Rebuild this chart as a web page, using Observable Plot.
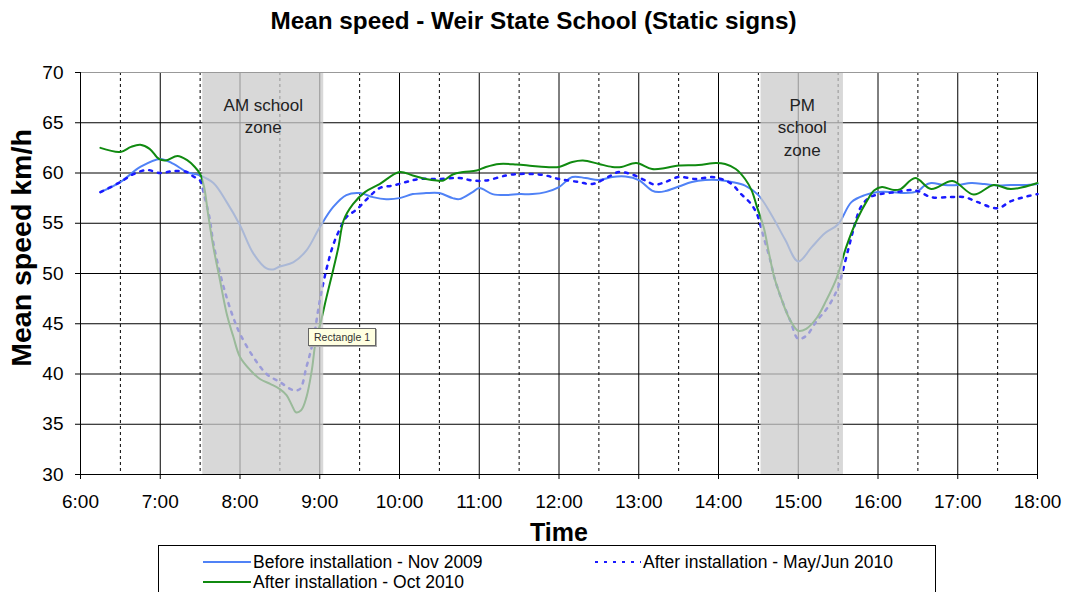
<!DOCTYPE html>
<html><head><meta charset="utf-8">
<script src="https://cdn.jsdelivr.net/npm/d3@7"></script>
<script src="https://cdn.jsdelivr.net/npm/@observablehq/plot@0.6"></script>
<style>
body{margin:0;background:#fff;font-family:"Liberation Sans",Arial,sans-serif;overflow:hidden;width:1067px;height:592px;position:relative}
#title{position:absolute;left:0;top:7px;width:1067px;text-align:center;font-weight:bold;font-size:24.3px;color:#000;line-height:28px}
#ylabel{position:absolute;left:21px;top:248px;transform:translate(-50%,-50%) rotate(-90deg);font-weight:bold;font-size:28.5px;white-space:nowrap;color:#000;line-height:30px}
#chart{position:absolute;left:0;top:44px}
#legend{position:absolute;left:158px;top:545px;width:776px;height:60px;border:1px solid #000;background:#fff}
.li{position:absolute;font-size:17.5px;line-height:20px;color:#000;white-space:nowrap}
.li svg{position:absolute}
#tip{position:absolute;left:308px;top:328px;width:66px;height:16px;background:#ffffe1;border:1px solid #666;font-size:10.5px;line-height:16px;color:#333;text-align:center;box-shadow:1px 1px 0 #aaa}
</style>
</head><body>
<div id="title">Mean speed - Weir State School (Static signs)</div>
<div id="chart"></div>
<div id="ylabel">Mean speed km/h</div>
<div id="legend"></div>
<div id="tip">Rectangle 1</div>
<script>
// ---- data ----
const seriesNames = ["Before installation - Nov 2009", "After installation - May/Jun 2010", "After installation - Oct 2010"];

const nov2009Times = ["6:15","6:30","6:45","7:00","7:10","7:20","7:30","7:40","7:50","8:00","8:10","8:20","8:25","8:30","8:40","8:50","9:00","9:10","9:20","9:30","9:40","9:50","10:00","10:10","10:20","10:30","10:40","10:45","10:55","11:00","11:10","11:20","11:30","11:40","11:50","12:00","12:10","12:20","12:30","12:40","12:50","13:00","13:10","13:15","13:20","13:30","13:40","13:50","14:00","14:10","14:20","14:30","14:40","14:50","15:00","15:10","15:20","15:30","15:40","15:50","16:00","16:10","16:20","16:30","16:35","16:40","16:50","17:00","17:10","17:20","17:30","17:40","17:50","18:00"];
const nov2009Speeds = [58.1,59.1,60.6,61.4,60.9,60.1,59.75,59.0,57.1,54.8,52.0,50.5,50.4,50.7,51.1,52.3,54.6,56.6,57.8,58.0,57.6,57.4,57.5,57.9,58.0,58.0,57.5,57.4,58.1,58.5,57.9,57.8,57.9,57.9,58.1,58.6,59.6,59.5,59.3,59.6,59.65,59.3,58.25,58.1,58.2,58.65,59.1,59.3,59.3,59.1,58.75,57.8,55.8,53.4,51.2,52.6,54.0,54.9,57.1,57.8,58.1,58.1,58.0,58.2,58.75,59.0,58.8,58.8,59.0,58.9,58.75,58.8,58.8,58.9];

const mayJun2010Times = ["6:15","6:30","6:40","6:50","7:00","7:10","7:20","7:25","7:30","7:33","7:37","7:40","7:45","7:50","7:55","8:00","8:10","8:20","8:30","8:40","8:45","8:50","8:55","9:00","9:05","9:10","9:15","9:20","9:28","9:37","9:45","9:55","10:05","10:15","10:30","10:45","10:55","11:05","11:20","11:30","11:40","11:50","12:00","12:15","12:25","12:39","12:45","12:55","13:05","13:12","13:20","13:30","13:43","13:55","14:02","14:10","14:17","14:24","14:29","14:34","14:39","14:42","14:47","14:54","15:00","15:06","15:14","15:22","15:29","15:33","15:38","15:42","15:47","15:54","16:02","16:14","16:24","16:30","16:40","16:55","17:05","17:15","17:30","17:40","17:50","18:00"];
const mayJun2010Speeds = [58.1,59.1,59.9,60.3,60.0,60.2,60.1,59.65,59.25,57.8,55.6,53.0,50.0,47.6,45.6,44.0,41.7,40.0,39.2,38.4,38.5,40.7,43.3,47.3,50.4,52.8,54.4,55.6,56.4,57.6,58.5,58.75,59.1,59.4,59.4,59.5,59.25,59.25,59.75,59.9,59.9,59.75,59.4,59.1,58.9,59.75,60.1,59.85,59.25,58.85,59.1,59.6,59.4,59.6,59.4,58.9,57.9,57.0,55.9,53.6,51.3,49.6,47.6,45.3,43.5,43.8,45.3,46.6,48.3,50.0,52.6,54.6,56.6,57.6,57.9,58.1,58.3,58.2,57.6,57.6,57.6,57.1,56.5,57.2,57.6,57.9];

const oct2010Times = ["6:15","6:30","6:38","6:45","6:52","6:59","7:04","7:13","7:20","7:26","7:30","7:33","7:36","7:40","7:45","7:50","7:55","8:00","8:08","8:15","8:23","8:30","8:35","8:39","8:42","8:46","8:50","8:54","8:57","9:01","9:05","9:10","9:14","9:18","9:25","9:34","9:45","10:00","10:10","10:20","10:28","10:33","10:40","10:48","10:58","11:05","11:15","11:28","11:40","11:50","12:00","12:10","12:18","12:30","12:40","12:47","12:58","13:10","13:20","13:30","13:45","13:58","14:05","14:13","14:20","14:25","14:29","14:34","14:38","14:42","14:47","14:53","15:00","15:06","15:14","15:21","15:29","15:36","15:44","15:52","15:57","16:03","16:12","16:17","16:28","16:40","16:56","17:12","17:27","17:40","18:00"];
const oct2010Speeds = [62.5,62.1,62.6,62.8,62.4,61.4,61.25,61.7,61.3,60.6,59.9,58.6,55.9,52.6,49.3,46.0,43.7,41.7,40.35,39.5,39.0,38.5,37.9,36.9,36.2,36.4,37.7,40.35,43.3,45.3,47.6,50.3,52.6,55.3,56.9,58.1,58.9,60.1,59.75,59.4,59.25,59.25,59.85,60.1,60.25,60.6,60.9,60.85,60.7,60.6,60.6,61.1,61.25,60.9,60.6,60.6,61.0,60.4,60.5,60.75,60.8,61.0,60.9,60.4,59.4,58.25,56.6,54.6,52.0,49.6,47.6,45.6,44.3,44.5,45.6,47.3,49.6,52.6,55.3,57.3,58.25,58.6,58.3,58.4,59.5,58.4,59.2,57.85,58.8,58.4,59.0];

const zoneStarts = ["7:32", "14:32"];
const zoneEnds = ["9:03", "15:34"];
const zoneLabels = ["AM school\nzone", "PM\nschool\nzone"];

const xTickLabels = ["6:00","7:00","8:00","9:00","10:00","11:00","12:00","13:00","14:00","15:00","16:00","17:00","18:00"];
const halfHourLabels = ["6:30","7:30","8:30","9:30","10:30","11:30","12:30","13:30","14:30","15:30","16:30","17:30"];
const yTicks = [30,35,40,45,50,55,60,65,70];

// ---- helpers ----
const toH = s => { const [h, m] = s.split(":").map(Number); return h + m / 60; };
const mk = (times, speeds, name) => times.map((t, i) => ({t: toH(t), v: speeds[i], series: name}));
const nov = mk(nov2009Times, nov2009Speeds, seriesNames[0]);
const mayjun = mk(mayJun2010Times, mayJun2010Speeds, seriesNames[1]);
const oct = mk(oct2010Times, oct2010Speeds, seriesNames[2]);
const zones = zoneStarts.map((s, i) => ({x1: toH(s), x2: toH(zoneEnds[i]), label: zoneLabels[i]}));
const hourTicks = xTickLabels.map(toH);
const halfTicks = halfHourLabels.map(toH);

const colNov = "#5082f6", colMay = "#1a1aff", colOct = "#108a10";

const chart = Plot.plot({
  width: 1067, height: 500,
  marginLeft: 80, marginRight: 30, marginTop: 28, marginBottom: 70,
  style: {fontFamily: "'Liberation Sans', Arial, sans-serif", fontSize: "19px", color: "#000", background: "#fff"},
  x: {domain: [6, 18], axis: null},
  y: {domain: [30, 70], axis: null},
  marks: [
    Plot.ruleY(yTicks.filter(v => v > 30 && v < 70), {stroke: "#000", strokeWidth: 1}),
    Plot.ruleX(hourTicks.filter(v => v > 6), {stroke: "#000", strokeWidth: 1}),
    Plot.ruleX(halfTicks, {stroke: "#000", strokeWidth: 1, strokeDasharray: "3,3"}),
    Plot.line(nov, {x: "t", y: "v", stroke: colNov, strokeWidth: 2, curve: "catmull-rom"}),
    Plot.line(mayjun, {x: "t", y: "v", stroke: colMay, strokeWidth: 2.5, strokeDasharray: "3,6", curve: "catmull-rom"}),
    Plot.line(oct, {x: "t", y: "v", stroke: colOct, strokeWidth: 2, curve: "catmull-rom"}),
    Plot.rect(zones, {x1: "x1", x2: "x2", fill: "#cbcbcb", fillOpacity: 0.74}),
    Plot.ruleY([70], {stroke: "#999"}),
    Plot.ruleX([6], {stroke: "#000"}),
    Plot.ruleY([30], {stroke: "#000", x1: 6, x2: 18}),
    Plot.axisY({ticks: yTicks, tickSize: 5, tickPadding: 12, fontSize: 19, label: null}),
    Plot.axisX({ticks: hourTicks, tickSize: 5, tickPadding: 15, fontSize: 19, label: null,
      tickFormat: v => xTickLabels[hourTicks.indexOf(v)]}),
    Plot.text(zones, {x: d => (d.x1 + d.x2) / 2, frameAnchor: "top", lineAnchor: "top", dy: 22, text: "label",
      fontSize: 17, lineHeight: 1.33, fill: "#222"}),
    Plot.text(["Time"], {frameAnchor: "bottom", dy: 66, fontWeight: "bold", fontSize: 25})
  ]
});
document.getElementById("chart").appendChild(chart);

// ---- legend ----
const lg = document.getElementById("legend");
const items = [
  {name: seriesNames[0], color: colNov, dash: null, x: 44, y: 6, w: 48},
  {name: seriesNames[1], color: colMay, dash: "3,6", x: 436, y: 6, w: 46},
  {name: seriesNames[2], color: colOct, dash: null, x: 44, y: 26, w: 48}
];
items.forEach(it => {
  const d = document.createElement("div");
  d.className = "li";
  d.style.left = it.x + "px"; d.style.top = it.y + "px";
  d.style.paddingLeft = (it.w + 2) + "px";
  d.innerHTML = `<svg width="${it.w}" height="20" style="left:0;top:0"><line x1="0" x2="${it.w}" y1="10" y2="10" stroke="${it.color}" stroke-width="2" ${it.dash ? `stroke-dasharray="${it.dash}"` : ""}/></svg>${it.name}`;
  lg.appendChild(d);
});
</script>
</body></html>
